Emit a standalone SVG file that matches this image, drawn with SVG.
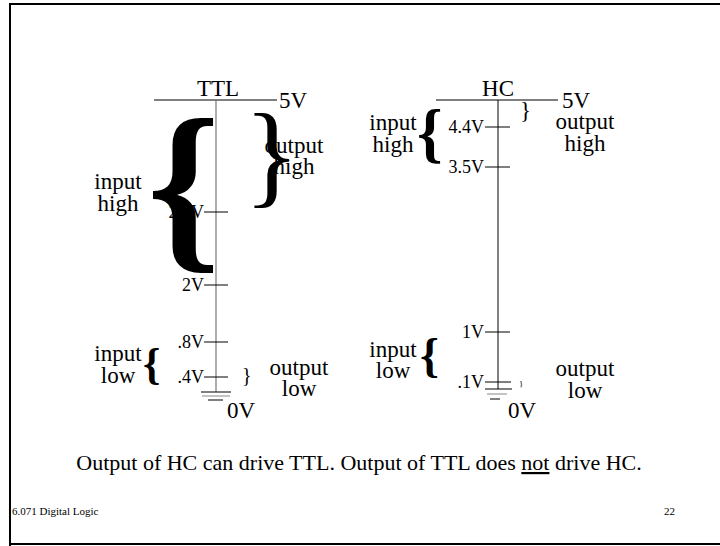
<svg xmlns="http://www.w3.org/2000/svg" width="720" height="546" viewBox="0 0 720 546">
<style>
text{font-family:"Liberation Serif","Times New Roman",serif;fill:#000}
.lbl{font-size:23px}
.v{font-size:18px;text-anchor:end}
.ln{stroke:#000;stroke-width:1;fill:none}
.br{font-weight:bold}
</style>
<rect x="0" y="0" width="720" height="546" fill="#fff"/>
<path d="M10,546 V4 H720 M10,544 H720" stroke="#000" stroke-width="2" fill="none"/>

<g id="ttl">
  <line class="ln" x1="154" y1="100" x2="277" y2="100"/>
  <line x1="216" y1="100" x2="216" y2="392" stroke="#777" stroke-width="1.2"/>
  <text x="218" y="96" class="lbl" text-anchor="middle">TTL</text>
  <text x="279" y="108" class="lbl">5V</text>
  <line class="ln" x1="204" y1="212" x2="228" y2="212"/>
  <text x="204" y="218" class="v">2.4V</text>
  <line class="ln" x1="204" y1="285" x2="228" y2="285"/>
  <text x="204" y="291" class="v">2V</text>
  <line class="ln" x1="204" y1="342" x2="228" y2="342"/>
  <text x="204" y="348" class="v">.8V</text>
  <line class="ln" x1="204" y1="377" x2="228" y2="377"/>
  <text x="204" y="383" class="v">.4V</text>
  <line class="ln" x1="201" y1="392" x2="231" y2="392"/>
  <line x1="202" y1="396" x2="230" y2="396" stroke="#888" stroke-width="1"/>
  <line class="ln" x1="208" y1="400" x2="223" y2="400"/>
  <text x="227" y="418" class="lbl">0V</text>
  <text x="118" y="189" class="lbl" text-anchor="middle">input</text>
  <text x="118" y="211" class="lbl" text-anchor="middle">high</text>
  <text x="294" y="153" class="lbl" text-anchor="middle">output</text>
  <text x="294" y="174" class="lbl" text-anchor="middle">high</text>
  <text class="br" x="147" y="248" font-size="186">{</text>
  <text x="244" y="193" font-size="115">}</text>
  <text x="118" y="361" class="lbl" text-anchor="middle">input</text>
  <text x="118" y="383" class="lbl" text-anchor="middle">low</text>
  <text class="br" x="143" y="379" font-size="44">{</text>
  <text x="242" y="382" font-size="20">}</text>
  <text x="299" y="375" class="lbl" text-anchor="middle">output</text>
  <text x="299" y="396" class="lbl" text-anchor="middle">low</text>
</g>

<g id="hc">
  <line class="ln" x1="436" y1="100" x2="558" y2="100"/>
  <line class="ln" x1="498" y1="100" x2="498" y2="389"/>
  <text x="498" y="96" class="lbl" text-anchor="middle">HC</text>
  <text x="562" y="108" class="lbl">5V</text>
  <line class="ln" x1="485" y1="127" x2="510" y2="127"/>
  <text x="484" y="133" class="v">4.4V</text>
  <line class="ln" x1="485" y1="167" x2="510" y2="167"/>
  <text x="484" y="173" class="v">3.5V</text>
  <line class="ln" x1="485" y1="332" x2="510" y2="332"/>
  <text x="484" y="338" class="v">1V</text>
  <line class="ln" x1="485" y1="382" x2="511" y2="382"/>
  <text x="484" y="388" class="v">.1V</text>
  <line class="ln" x1="485" y1="389" x2="512" y2="389"/>
  <line x1="487" y1="394" x2="507" y2="394" stroke="#888" stroke-width="1"/>
  <line class="ln" x1="490" y1="399" x2="500" y2="399"/>
  <text x="508" y="418" class="lbl">0V</text>
  <text x="393" y="130" class="lbl" text-anchor="middle">input</text>
  <text x="393" y="152" class="lbl" text-anchor="middle">high</text>
  <text class="br" x="417" y="155" font-size="65">{</text>
  <text x="520" y="118" font-size="23">}</text>
  <text x="585" y="129" class="lbl" text-anchor="middle">output</text>
  <text x="585" y="151" class="lbl" text-anchor="middle">high</text>
  <text x="393" y="357" class="lbl" text-anchor="middle">input</text>
  <text x="393" y="378" class="lbl" text-anchor="middle">low</text>
  <text class="br" x="420" y="372" font-size="48">{</text>
  <text x="519" y="387" font-size="9">}</text>
  <text x="585" y="376" class="lbl" text-anchor="middle">output</text>
  <text x="585" y="398" class="lbl" text-anchor="middle">low</text>
</g>

<g id="caption">
  <text x="359" y="470" font-size="22" text-anchor="middle">Output of HC can drive TTL. Output of TTL does <tspan text-decoration="underline">not</tspan> drive HC.</text>
  <text x="12" y="515" font-size="11">6.071 Digital Logic</text>
  <text x="664" y="515" font-size="11">22</text>
</g>
</svg>
